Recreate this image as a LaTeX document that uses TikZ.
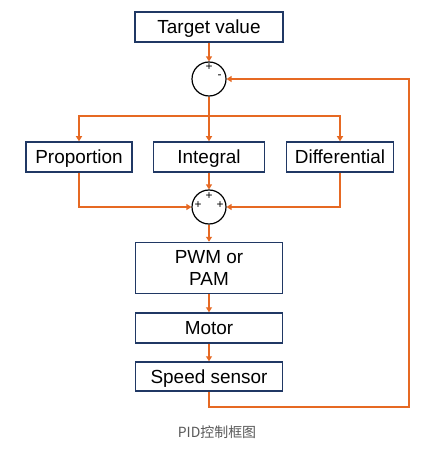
\documentclass[tikz,border=0pt]{standalone}
\usepackage{fontspec}
\setmainfont{Liberation Sans}
\newfontfamily\cjk{Noto Sans CJK SC}
\usetikzlibrary{arrows.meta}
\definecolor{boxblue}{RGB}{32,56,100}
\definecolor{lineorange}{RGB}{230,105,35}
\begin{document}
\begin{tikzpicture}[x=1bp, y=-1bp, block style/.style={draw=boxblue, line width=1.5bp, rectangle, inner sep=0pt, align=center, text depth=0pt, minimum height=30bp, font=\fontsize{19}{22}\selectfont}, sum style/.style={draw=black, line width=1.2bp, circle, minimum size=34bp, inner sep=0pt}, sign style/.style={font=\fontsize{12}{13}\selectfont, inner sep=0pt}, flow style/.style={draw=lineorange, line width=1.3bp, -{Triangle[length=5bp, width=6bp]}}]
	\useasboundingbox[fill=white] (0, 0) rectangle (431, 450);
	\node[block style, minimum width=148bp] (B1) at (209, 27) {Target value};
	\node[sum style] (C1) at (209, 79) {};
	\node[block style, minimum width=106bp] (B2) at (79, 157) {Proportion};
	\node[block style, minimum width=111bp] (B3) at (209, 157) {Integral};
	\node[block style, minimum width=107bp] (B4) at (340, 157) {Differential};
	\node[sum style] (C2) at (209, 207) {};
	\node[block style, minimum width=147bp, minimum height=51bp] (B5) at (209, 268) {PWM or\\PAM};
	\node[block style, minimum width=147bp] (B6) at (209, 328) {Motor};
	\node[block style, minimum width=147bp, minimum height=29bp] (B7) at (209, 376.5) {Speed sensor};
	\node[text=black!65, font=\cjk\fontsize{14}{16}\selectfont] (L1) at (217, 432) {PID控制框图};
	\node[sign style] (P1) at (209, 67) {+};
	\node[sign style] (P2) at (219.5, 77) {-};
	\node[sign style] (P3) at (209, 196) {+};
	\node[sign style] (P4) at (198, 205) {+};
	\node[sign style] (P5) at (220, 205) {+};
	\coordinate (K1) at (209, 116);
	\coordinate (K2) at (409, 407);
	\draw[flow style] (B1) -- (C1);
	\draw[draw=lineorange, line width=1.3bp] (C1) -- (K1);
	\foreach \x in {2,...,4}
	\draw[flow style] (K1) -| (B\x.north);
	\draw[flow style] (B3) -- (C2);
	\draw[flow style] (B2.south) |- (C2.west);
	\draw[flow style] (B4.south) |- (C2.east);
	\draw[flow style] (C2) -- (B5);
	\draw[flow style] (B5) -- (B6);
	\draw[flow style] (B6) -- (B7);
	\draw[flow style] (B7.south) |- (K2) |- (C1.east);
\end{tikzpicture}
\end{document}
